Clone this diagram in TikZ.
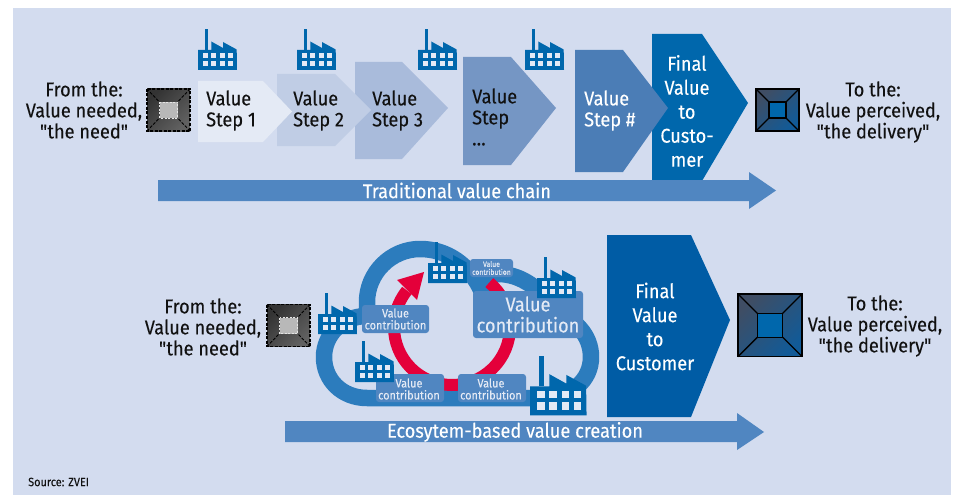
\documentclass[tikz,border=0pt]{standalone}
\usepackage{fontspec}
\setmainfont{Fira Sans}[FakeStretch=0.91,FakeBold=0.12,Ligatures=TeXOff]
\usetikzlibrary{positioning}
\definecolor{panelblue}{HTML}{D3DCEF}
\definecolor{stepa}{HTML}{E4EAF5}
\definecolor{stepb}{HTML}{C0CDE5}
\definecolor{stepc}{HTML}{A9BBDB}
\definecolor{stepd}{HTML}{7596C4}
\definecolor{stepe}{HTML}{4B7DB6}
\definecolor{stepf}{HTML}{0067AC}
\definecolor{finalblue}{HTML}{005CA5}
\definecolor{chainblue}{HTML}{5086C1}
\definecolor{ringblue}{HTML}{2C7CBD}
\definecolor{ringred}{HTML}{E4003A}
\definecolor{slate}{HTML}{46566F}
\definecolor{inktext}{HTML}{111111}
\tikzset{
  label20/.style={font=\fontsize{20}{21}\selectfont,text=inktext,align=center,inner sep=0pt},
  steplabel/.style={font=\fontsize{20}{21}\selectfont,text=inktext,align=left,anchor=west,inner sep=0pt},
  finallabel/.style={font=\fontsize{20}{24}\selectfont,text=white,align=center,inner sep=0pt},
  chainlabel/.style={font=\fontsize{20}{20}\selectfont,text=white,inner sep=0pt},
  contribbox/.style={fill=chainblue,rounded corners=3pt},
  contriblabel/.style={text=stepa,align=center,inner sep=0pt},
  factory/.pic={
    \fill[stepf] (6.5,0) rectangle (9.5,21);
    \fill[stepf] (0,41) -- (0,21) -- (13.3,21) -- (13.3,12.5) -- (25,19) -- (25,13) -- (38.7,20.5) -- (39,41) -- cycle;
    \foreach \x in {5,13.4,21.8,30}
    \foreach \y in {24,32}
    \fill[stepa] (\x,\y) rectangle ++(5,5);
  },
  fromcube/.pic={
    \shade[left color=black!80,right color=black!62,shading angle=45] (0,0) rectangle (43,42);
    \fill[black!28] (12.5,13) rectangle (30.5,29);
    \draw[dash pattern=on 3pt off 1.5pt,line width=1.2pt,black] (0,0) rectangle (43,42);
    \draw[dash pattern=on 3pt off 1.5pt,line width=0.9pt,black] (0,0) -- (12.5,13) (43,0) -- (30.5,13) (43,42) -- (30.5,29) (0,42) -- (12.5,29);
    \draw[dash pattern=on 2pt off 1.5pt,line width=0.8pt,black!10] (12.5,13) rectangle (30.5,29);
  },
  tocube/.pic={
    \shade[left color=slate!90!black,right color=finalblue!75!slate,shading angle=45] (0,0) rectangle (43,42);
    \fill[stepf] (13,13) rectangle (30,29);
    \draw[line width=1.3pt,black] (0,0) rectangle (43,42) (13,13) rectangle (30,29);
    \draw[line width=1.3pt,black] (0,0) -- (13,13) (43,0) -- (30,13) (43,42) -- (30,29) (0,42) -- (13,29);
  },
}
\begin{document}
\begin{tikzpicture}[line cap=butt,line join=miter,x=1pt,y=-1pt]
\useasboundingbox (0,0) rectangle (954,495);
\fill[panelblue] (13,8) rectangle (951,495);
\foreach \xa/\xb/\xc/\ya/\yb/\ym/\col in {652/702/748/34/181/103/stepf,575/623/668/50/172/108/stepe,463/511/556/57/165/108/stepd,355/402/448/62/159/108/stepc,277/335/371/74/146/110/stepb,198/263/292/81/142/111.5/stepa}
\fill[\col] (\xa,\ya) -- (\xb,\ya) -- (\xc,\ym) -- (\xb,\yb) -- (\xa,\yb) -- cycle;
\fill[chainblue] (158,180) -- (749,180) -- (749,172) -- (776,190.5) -- (749,209) -- (749,201) -- (158,201) -- cycle;
\foreach \x in {198,297,418,525}
\pic at (\x,29) {factory};
\pic at (147,89) {fromcube};
\pic at (756,89) {tocube};
\node[label20] (fromtop) at (84,110) {From the:\\Value needed,\\"the need"};
\node[label20] (totop) at (873,112) {To the:\\Value perceived,\\"the delivery"};
\node[steplabel] (stepone) at (206,110.5) {Value\\Step 1};
\node[steplabel] (steptwo) at (293,110.5) {Value\\Step 2};
\node[steplabel] (stepthree) at (372,110.5) {Value\\Step 3};
\node[steplabel] (stepfour) at (472,117) {Value\\Step\\\dots};
\node[steplabel,text=white] (stepn) at (584,110.5) {Value\\Step \#};
\node[finallabel] (finaltop) at (687,111) {Final\\Value\\to\\Custo-\\mer};
\node[chainlabel] (chaintop) at (457,190.5) {Traditional value chain};
% lower row
\fill[finalblue] (607,235) -- (691,235) -- (730,320) -- (691,417) -- (607,417) -- cycle;
\draw[ringblue,line width=16.5pt,line join=round] (367,398) -- (540,398) .. controls (572,398) and (591,380) .. (591,357) .. controls (591,335) and (575,318) .. (550,310) -- (543,295) .. controls (530,282) and (515,274) .. (498,274) .. controls (490,274) and (484,282) .. (482,292) .. controls (470,265) and (447,249) .. (420,249) .. controls (391,249) and (367,273) .. (367,302) -- (367,316) .. controls (342,316) and (324,335) .. (324,357) .. controls (324,380) and (342,398) .. (367,398) -- cycle;
\draw[ringred,line width=12pt] (452,327) ++(-50:58) arc (-50:219:58);
\fill[ringred] (424,272) -- (397,280) -- (417,300) -- cycle;
\foreach \xa/\ya/\xb/\yb in {362/305/429/333,470/259/513/277,473/291/583/338,376/374/444/402,458/374/526/402}
\fill[contribbox] (\xa,\ya) rectangle (\xb,\yb);
\foreach \x/\y in {428/242,537/257,318/293,355/341}
\pic at (\x,\y) {factory};
\pic[scale=1.45] at (530,356) {factory};
\node[contriblabel,font=\fontsize{12}{12}\selectfont] (contribleft) at (395.5,319) {Value\\contribution};
\node[contriblabel,font=\fontsize{7.5}{8}\selectfont] (contribsmall) at (491.5,268) {Value\\contribution};
\node[contriblabel,font=\fontsize{20}{21}\selectfont] (contribbig) at (528,314.5) {Value\\contribution};
\node[contriblabel,font=\fontsize{12}{12}\selectfont] (contribbl) at (409,389) {Value\\contribution};
\node[contriblabel,font=\fontsize{12}{12}\selectfont] (contribbr) at (491,389) {Value\\contribution};
\fill[chainblue] (285,421) -- (737,421) -- (737,413) -- (764,432) -- (737,450) -- (737,442) -- (285,442) -- cycle;
\pic at (267,304.5) {fromcube};
\pic[scale=1.49] at (738,294) {tocube};
\node[label20] (frombot) at (203,327) {From the:\\Value needed,\\"the need"};
\node[label20] (tobot) at (875,326) {To the:\\Value perceived,\\"the delivery"};
\node[finallabel] (finalbot) at (655,326.5) {Final\\Value\\to\\Customer};
\node[chainlabel] (chainbot) at (515,432) {Ecosytem-based value creation};
\node[font=\fontsize{12}{12}\selectfont,text=inktext,anchor=west,inner sep=0pt] (source) at (28,482) {Source: ZVEI};
\end{tikzpicture}
\end{document}
